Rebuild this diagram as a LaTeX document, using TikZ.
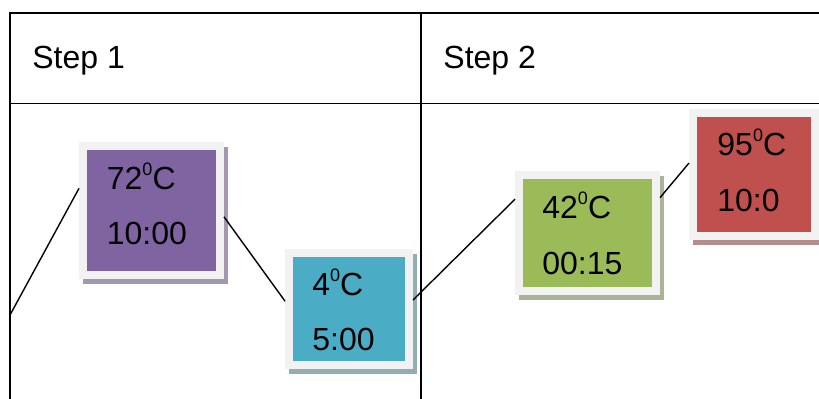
\documentclass[tikz,border=0pt]{standalone}
\usepackage{fontspec}
\setmainfont{Liberation Sans}
\usepackage{tikz}
\usetikzlibrary{shadows}

\definecolor{FrameGray}{HTML}{F2F2F2}
\definecolor{ExtFill}{HTML}{8064A2}
\definecolor{ExtShade}{HTML}{A398AF}
\definecolor{HoldFill}{HTML}{4BACC6}
\definecolor{HoldShade}{HTML}{93ADB5}
\definecolor{AnnFill}{HTML}{9BBB59}
\definecolor{AnnShade}{HTML}{A8B397}
\definecolor{DenFill}{HTML}{C0504D}
\definecolor{DenShade}{HTML}{B58D8C}

\newcommand{\degsup}{\raisebox{7pt}{\fontsize{9}{9}\selectfont 0}}

\begin{document}
\begin{tikzpicture}[x=0.5pt, y=-0.5pt,
    stage/.style 2 args={rectangle, draw=FrameGray, line width=4pt, fill=#1,
        drop shadow={shadow xshift=2pt, shadow yshift=-2.5pt, fill=#2, draw=#2,
            line width=4pt, opacity=1}},
    reading/.style={anchor=base west, inner sep=0pt, font=\fontsize{16}{19}\selectfont},
    link/.style={line width=0.7pt},
    rule/.style={line width=0.85pt}]
    \clip (0,0) rectangle (819,398);

    % Table
    \draw[rule] (10,430) -- (10,13) -- (840,13);
    \draw[rule] (10,103.5) -- (840,103.5);
    \draw[rule] (421,13) -- (421,430);
    \node[reading] (Step1) at (32,68) {Step 1};
    \node[reading] (Step2) at (443,68) {Step 2};

    % Stages
    \node[stage={ExtFill}{ExtShade}, minimum width=68.5pt, minimum height=64.5pt] (Ext) at (151.5,210.5) {};
    \node[stage={HoldFill}{HoldShade}, minimum width=60pt, minimum height=56pt] (Hold) at (349,309) {};
    \node[stage={AnnFill}{AnnShade}, minimum width=68.5pt, minimum height=58pt] (Ann) at (587.5,233) {};
    \node[stage={DenFill}{DenShade}, minimum width=61pt, minimum height=61.5pt] (Den) at (754,174.5) {};

    \node[reading] (ExtT) at ([shift={(13.75pt,-23.5pt)}]Ext.north west) {72\degsup C};
    \node[reading] (ExtD) at ([shift={(13.75pt,-51pt)}]Ext.north west) {10:00};
    \node[reading] (HoldT) at ([shift={(13.5pt,-23pt)}]Hold.north west) {4\degsup C};
    \node[reading] (HoldD) at ([shift={(13.5pt,-50.5pt)}]Hold.north west) {5:00};
    \node[reading] (AnnT) at ([shift={(13.5pt,-23.5pt)}]Ann.north west) {42\degsup C};
    \node[reading] (AnnD) at ([shift={(13.5pt,-51.5pt)}]Ann.north west) {00:15};
    \node[reading] (DenT) at ([shift={(14pt,-23pt)}]Den.north west) {95\degsup C};
    \node[reading] (DenD) at ([shift={(14pt,-51pt)}]Den.north west) {10:0};

    % Connections
    \coordinate (Start) at (10,315);
    \draw[link] (Start) -- (Ext.163);
    \draw[link] (Ext.355) -- (Hold.173);
    \draw[link] (Hold.8) -- (Ann.155);
    \draw[link] (Ann.26) -- (Den.170);
\end{tikzpicture}
\end{document}
